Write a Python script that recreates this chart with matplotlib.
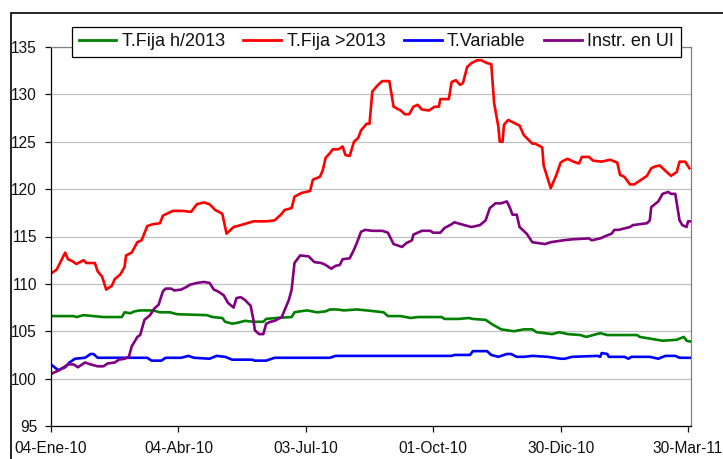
import numpy as np
import pandas as pd
import matplotlib
matplotlib.use('Agg')
import matplotlib.pyplot as plt
import matplotlib.dates as mdates
from matplotlib.patches import Rectangle

plt.rcParams['font.family'] = ['Liberation Sans', 'DejaVu Sans']

# Series: days counted from 04-Ene-10, index value
START = pd.Timestamp('2010-01-04')

fija_h2013_days = [0, 16, 18, 23, 37, 50, 52, 56, 59, 63, 72, 77, 84, 89, 110, 114, 121, 123, 128,
                   132, 137, 143, 150, 152, 159, 170, 172, 176, 181, 188, 194, 197, 202, 207, 216,
                   223, 235, 238, 247, 254, 259, 276, 278, 288, 295, 298, 307, 312, 318, 327, 334,
                   340, 343, 354, 359, 365, 374, 378, 388, 393, 414, 416, 428, 432, 442, 447, 449, 452]
fija_h2013 = [106.6, 106.6, 106.5, 106.7, 106.5, 106.5, 107.0, 106.9, 107.1, 107.2, 107.2, 107.0,
              107.0, 106.8, 106.7, 106.5, 106.4, 106.0, 105.8, 105.9, 106.1, 106.0, 106.0, 106.3,
              106.4, 106.5, 107.0, 107.1, 107.2, 107.0, 107.1, 107.3, 107.3, 107.2, 107.3, 107.2,
              107.0, 106.6, 106.6, 106.4, 106.5, 106.5, 106.3, 106.3, 106.4, 106.3, 106.2, 105.7,
              105.2, 105.0, 105.2, 105.2, 104.9, 104.7, 104.9, 104.7, 104.6, 104.4, 104.8, 104.6,
              104.6, 104.4, 104.1, 104.0, 104.1, 104.4, 104.0, 103.9]

fija_m2013_days = [0, 4, 10, 12, 15, 18, 23, 25, 31, 33, 36, 39, 43, 45, 49, 52, 53, 57, 61, 64, 68,
                   72, 77, 79, 86, 93, 99, 103, 108, 112, 116, 121, 124, 129, 134, 143, 152, 158,
                   163, 165, 170, 172, 177, 183, 185, 190, 192, 194, 197, 199, 203, 206, 208, 211,
                   214, 217, 219, 223, 225, 227, 231, 234, 239, 242, 247, 250, 253, 256, 259, 262,
                   267, 271, 274, 275, 281, 283, 286, 289, 291, 294, 297, 301, 304, 308, 311, 313,
                   316, 317, 319, 320, 323, 327, 331, 334, 340, 342, 347, 348, 353, 357, 360, 362,
                   365, 369, 373, 375, 380, 383, 389, 395, 400, 402, 405, 409, 412, 416, 421, 424,
                   427, 430, 435, 438, 442, 444, 448, 451]
fija_m2013 = [111.1, 111.5, 113.3, 112.6, 112.4, 112.1, 112.5, 112.2, 112.2, 111.3, 110.8, 109.4,
              109.8, 110.5, 111.0, 111.8, 113.0, 113.3, 114.4, 114.6, 116.1, 116.3, 116.4, 117.2,
              117.7, 117.7, 117.6, 118.4, 118.6, 118.4, 117.8, 117.4, 115.3, 116.0, 116.2, 116.6,
              116.6, 116.7, 117.4, 117.8, 118.0, 119.2, 119.6, 119.8, 121.0, 121.3, 122.0, 123.3,
              123.8, 124.2, 124.2, 124.5, 123.6, 123.5, 125.0, 125.4, 126.2, 126.9, 126.9, 130.3,
              131.0, 131.4, 131.4, 128.7, 128.3, 127.9, 127.9, 128.7, 128.9, 128.4, 128.3, 128.7,
              128.7, 129.5, 129.5, 131.3, 131.5, 131.0, 131.2, 132.9, 133.3, 133.6, 133.6, 133.3,
              133.2, 129.1, 126.6, 125.0, 125.0, 126.8, 127.3, 127.0, 126.7, 125.7, 124.8, 124.8,
              124.4, 122.5, 120.1, 121.5, 122.8, 123.0, 123.2, 122.9, 122.7, 123.4, 123.4, 123.0,
              122.9, 123.1, 122.8, 121.5, 121.3, 120.5, 120.5, 120.9, 121.4, 122.2, 122.4, 122.5,
              121.8, 121.4, 121.8, 122.9, 122.9, 122.2]

variable_days = [0, 5, 10, 13, 17, 24, 28, 30, 33, 68, 71, 78, 81, 92, 97, 101, 112, 117, 123, 128,
                 142, 144, 152, 158, 197, 201, 283, 285, 296, 298, 308, 311, 316, 322, 325, 329,
                 334, 340, 351, 360, 363, 368, 386, 388, 389, 393, 394, 405, 408, 410, 423, 429,
                 434, 441, 444, 452]
variable = [101.5, 100.9, 101.2, 101.7, 102.1, 102.2, 102.6, 102.6, 102.2, 102.2, 101.9, 101.9,
            102.2, 102.2, 102.4, 102.2, 102.1, 102.4, 102.3, 102.0, 102.0, 101.9, 101.9, 102.2,
            102.2, 102.4, 102.4, 102.5, 102.5, 102.9, 102.9, 102.5, 102.3, 102.6, 102.6, 102.3,
            102.3, 102.4, 102.3, 102.1, 102.1, 102.3, 102.4, 102.3, 102.7, 102.6, 102.3, 102.3,
            102.1, 102.3, 102.3, 102.1, 102.4, 102.4, 102.2, 102.2]

ui_days = [0, 6, 12, 16, 19, 24, 28, 33, 37, 40, 45, 48, 52, 55, 57, 61, 63, 66, 70, 73, 76, 79,
           81, 85, 87, 92, 96, 98, 103, 108, 112, 115, 118, 122, 125, 129, 131, 134, 137, 141,
           143, 144, 147, 150, 152, 155, 158, 163, 168, 170, 172, 176, 182, 186, 191, 194, 198,
           201, 204, 206, 211, 214, 216, 219, 222, 227, 234, 238, 242, 248, 251, 255, 256, 262,
           268, 270, 275, 278, 283, 285, 292, 297, 303, 307, 310, 314, 318, 322, 324, 326, 329,
           331, 336, 340, 349, 353, 362, 368, 380, 382, 388, 391, 396, 398, 401, 409, 411, 421,
           423, 424, 429, 432, 436, 438, 441, 444, 446, 449, 450, 452]
ui = [100.5, 100.9, 101.5, 101.5, 101.2, 101.7, 101.5, 101.3, 101.3, 101.6, 101.7, 102.0, 102.1,
      102.3, 103.4, 104.4, 104.6, 106.2, 106.7, 107.4, 107.8, 109.2, 109.5, 109.5, 109.3, 109.4,
      109.7, 109.9, 110.1, 110.2, 110.1, 109.4, 109.2, 108.8, 108.0, 107.5, 108.5, 108.6, 108.3,
      107.7, 106.2, 105.1, 104.7, 104.7, 105.8, 106.0, 106.1, 106.5, 108.3, 109.4, 112.2, 113.0,
      112.9, 112.3, 112.2, 112.0, 111.6, 111.9, 112.0, 112.6, 112.7, 113.6, 114.3, 115.5, 115.7,
      115.6, 115.6, 115.4, 114.2, 113.9, 114.3, 114.6, 115.2, 115.6, 115.6, 115.4, 115.4, 115.9,
      116.3, 116.5, 116.2, 116.0, 116.2, 116.7, 118.0, 118.5, 118.5, 118.7, 118.1, 117.3, 117.3,
      116.0, 115.3, 114.4, 114.2, 114.4, 114.6, 114.7, 114.8, 114.6, 114.8, 115.0, 115.3, 115.7,
      115.7, 116.0, 116.2, 116.4, 116.7, 118.1, 118.7, 119.5, 119.7, 119.5, 119.5, 116.7, 116.2,
      116.0, 116.6, 116.6]

series = [
    ('T.Fija h/2013', fija_h2013_days, fija_h2013, '#008000'),
    ('T.Fija >2013', fija_m2013_days, fija_m2013, '#FF0000'),
    ('T.Variable', variable_days, variable, '#0000FF'),
    ('Instr. en UI', ui_days, ui, '#800080'),
]

MESES = ['Ene', 'Feb', 'Mar', 'Abr', 'May', 'Jun', 'Jul', 'Ago', 'Sep', 'Oct', 'Nov', 'Dic']


def fmt_fecha(x, pos=None):
    d = mdates.num2date(x)
    return f'{d.day:02d}-{MESES[d.month - 1]}-{d.year % 100:02d}'


fig = plt.figure(figsize=(7.23, 4.59), dpi=100)
ax = fig.add_axes([51 / 723, 1 - 426 / 459, 640 / 723, 379 / 459])

for name, days, vals, color in series:
    fechas = START + pd.to_timedelta(days, unit='D')
    ax.plot(fechas, vals, color=color, lw=1.9, label=name, solid_joinstyle='round')

ax.set_ylim(95, 135)
ax.set_yticks(np.arange(95, 136, 5))
ax.set_xlim(START, START + pd.Timedelta(days=452.1))
ax.set_xticks([START + pd.Timedelta(days=d) for d in range(0, 451, 90)])
ax.xaxis.set_major_formatter(plt.FuncFormatter(fmt_fecha))

ax.grid(axis='y', color='#C0C0C0', lw=0.9)
ax.set_axisbelow(True)
for s in ['top', 'right']:
    ax.spines[s].set_color('#808080')
    ax.spines[s].set_linewidth(0.9)
for s in ['left', 'bottom']:
    ax.spines[s].set_color('black')
    ax.spines[s].set_linewidth(0.9)
ax.tick_params(axis='both', direction='out', length=4, width=0.9, labelsize=11.2, colors='#111111')
ax.tick_params(axis='y', pad=6)
ax.tick_params(axis='x', pad=7)

leg = ax.legend(loc='center', bbox_to_anchor=(0.5085, 1.0135), ncol=4, fontsize=13.0,
                frameon=True, fancybox=False, framealpha=1, edgecolor='black',
                handlelength=2.1, handletextpad=0.3, columnspacing=1.02, borderpad=0.38,
                borderaxespad=0)
leg.get_frame().set_linewidth(0.9)
for h in leg.get_lines():
    h.set_linewidth(2.0)
for t in leg.get_texts():
    t.set_color('#111111')

# outer chart border
fig.patches.append(Rectangle((11 / 723, -0.1), 1.0, 1.1 - 13 / 459, transform=fig.transFigure,
                             fill=False, edgecolor='black', lw=1.2))

fig.savefig('out.png', dpi=100)
